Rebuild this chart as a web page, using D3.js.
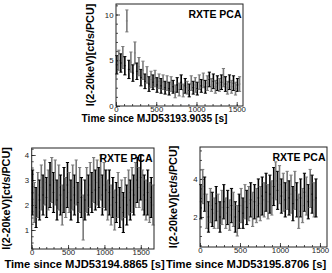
<!DOCTYPE html>
<html>
<head>
<meta charset="utf-8">
<script src="https://cdn.jsdelivr.net/npm/d3@7"></script>
<style>
  body { margin: 0; background: #fff; }
  text { font-family: "Liberation Sans", Arial, sans-serif; }
</style>
</head>
<body>
<svg id="chart" width="332" height="273"></svg>
<script>
// light curves, count rate per bin
let topStart = 10, topStep = 25;
let topRate = [4.5,5.0,4.7,5.3,4.4,9.3,4.0,4.8,3.6,5.8,3.8,4.3,3.1,3.9,2.7,3.4,2.4,2.9,2.6,3.0,
  2.3,2.7,2.2,2.6,2.0,2.5,1.9,2.4,2.1,1.6,2.3,1.8,2.6,1.7,2.2,2.0,1.7,2.5,2.0,2.3,
  1.9,2.6,2.2,2.8,2.1,2.5,2.9,2.3,2.7,2.1,2.5,2.3,2.6,3.1,2.4,2.0,2.6,2.1,2.5,1.9,2.3,2.4];
let topErr = [1.0,1.1,1.0,1.2,1.0,1.2,1.0,1.1,0.9,1.2,0.9,1.0,0.9,1.0,0.8,0.9,0.8,0.9,0.8,0.9,
  0.8,0.8,0.8,0.8,0.7,0.8,0.7,0.8,0.7,0.7,0.8,0.7,0.8,0.7,0.8,0.7,0.7,0.8,0.7,0.8,
  0.7,0.8,0.7,0.8,0.7,0.8,0.8,0.7,0.8,0.7,0.8,0.7,0.8,1.0,0.8,0.7,0.8,0.7,0.8,0.7,0.7,0.8];

let blStart = 12, blStep = 24;
let blRate = [2.5,2.1,1.9,2.4,2.2,2.7,2.4,2.9,2.3,2.6,2.8,3.0,2.5,2.9,2.2,2.7,2.4,2.0,2.6,2.3,
  2.8,2.5,2.2,2.7,2.4,2.9,2.1,2.6,2.3,1.5,2.2,2.6,2.4,2.8,2.5,3.0,2.6,2.9,2.7,3.1,
  2.4,2.8,2.6,2.2,2.5,2.0,2.3,1.8,2.1,2.4,1.9,2.2,1.7,2.3,2.0,2.5,2.2,2.6,2.4,2.8,
  3.0,2.7,3.1,2.6,2.4,2.2,2.5,2.1,2.3,2.0];
let blErr = [0.9,0.8,0.8,0.9,0.8,0.9,0.8,0.9,0.8,0.8,0.9,0.9,0.8,0.9,0.8,0.9,0.8,0.8,0.9,0.8,
  0.9,0.8,0.8,0.9,0.8,0.9,0.8,0.9,0.8,0.9,0.8,0.9,0.8,0.9,0.8,0.9,0.8,0.9,0.8,0.9,
  0.8,0.9,0.8,0.8,0.9,0.8,0.8,0.8,0.8,0.9,0.8,0.8,0.8,0.8,0.8,0.9,0.8,0.9,0.8,0.9,
  0.9,0.8,0.9,0.8,0.8,0.8,0.9,0.8,0.8,0.8];

let brStart = 10, brStep = 24;
let brRate = [2.8,3.6,3.2,2.3,2.0,2.6,2.4,2.2,2.7,2.3,2.0,2.5,2.8,2.2,2.5,2.1,2.6,2.4,2.0,1.8,
  2.3,2.6,2.2,2.8,2.5,2.7,2.9,2.4,2.8,2.6,3.0,2.7,3.1,2.9,3.3,2.8,3.2,3.0,3.6,3.9,
  3.4,3.7,3.1,3.3,2.9,3.4,3.0,3.2,2.7,3.4,2.9,2.3,3.0,2.6,3.3,3.1,2.8,3.5,3.2,2.9,3.0];
let brErr = [0.9,0.9,0.9,0.9,0.8,0.9,0.9,0.8,0.9,0.9,0.8,0.9,0.9,0.8,0.9,0.8,0.9,0.9,0.8,0.8,
  0.9,0.9,0.8,0.9,0.9,0.9,0.9,0.9,0.9,0.9,1.0,0.9,1.0,0.9,1.0,0.9,1.0,0.9,1.0,1.0,
  1.0,1.0,0.9,1.0,0.9,1.0,0.9,1.0,0.9,1.0,0.9,0.9,1.0,0.9,1.0,1.0,0.9,1.0,1.0,0.9,1.0];

let xTickVals = [0, 500, 1000, 1500];

let panels = [
  { rate: topRate, err: topErr, t0: topStart, dt: topStep,
    x0: 116, x1: 243, y0: 4, y1: 106, xDom: [0, 1578], yDom: [0, 11.15],
    yMajor: [0, 5, 10], yMinor: 1, xMinor: 100,
    title: "Time since MJD53193.9035 [s]", titleX: 154.5, titleY: 122, titleSize: 10.2,
    yTitleX: 90 },
  { rate: blRate, err: blErr, t0: blStart, dt: blStep,
    x0: 31.7, x1: 154, y0: 148, y1: 249, xDom: [0, 1682], yDom: [0.24, 4.28],
    yMajor: [1, 2, 3, 4], yMinor: 0.25, xMinor: 100,
    title: "Time since MJD53194.8865 [s]", titleX: 84.5, titleY: 268, titleSize: 11.2,
    yTitleX: 5.5 },
  { rate: brRate, err: brErr, t0: brStart, dt: brStep,
    x0: 200, x1: 327, y0: 147, y1: 247, xDom: [0, 1588], yDom: [0.42, 5.68],
    yMajor: [2, 4], yMinor: 0.5, xMinor: 100,
    title: "Time since MJD53195.8706 [s]", titleX: 246, titleY: 268, titleSize: 11.2,
    yTitleX: 173 }
];

let svg = d3.select("#chart");

panels.forEach(function(p) {
  let x = d3.scaleLinear().domain(p.xDom).range([p.x0, p.x1]);
  let y = d3.scaleLinear().domain(p.yDom).range([p.y1, p.y0]);
  let g = svg.append("g");

  // minor ticks
  let xMinorVals = d3.range(0, p.xDom[1], p.xMinor);
  let yMinorVals = d3.range(Math.ceil(p.yDom[0] / p.yMinor) * p.yMinor, p.yDom[1], p.yMinor);
  g.append("g").attr("transform", "translate(0," + p.y1 + ")")
    .call(d3.axisBottom(x).tickValues(xMinorVals).tickSize(-2).tickFormat(""));
  g.append("g").attr("transform", "translate(" + p.x0 + ",0)")
    .call(d3.axisLeft(y).tickValues(yMinorVals).tickSize(-2).tickFormat(""));

  // major ticks + labels
  g.append("g").attr("class", "xaxis").attr("transform", "translate(0," + p.y1 + ")")
    .call(d3.axisBottom(x).tickValues(xTickVals).tickSize(-4).tickPadding(0.5)
      .tickFormat(d3.format("d")));
  g.append("g").attr("class", "yaxis").attr("transform", "translate(" + p.x0 + ",0)")
    .call(d3.axisLeft(y).tickValues(p.yMajor).tickSize(-4).tickPadding(2.5)
      .tickFormat(d3.format("d")));

  g.selectAll(".domain").remove();
  g.selectAll(".tick line").attr("stroke", "#222").attr("stroke-width", 0.8);
  g.selectAll(".tick text").attr("font-size", 7.8).attr("fill", "#222")
    .attr("font-family", "'Liberation Sans', Arial, sans-serif");

  // data: error bars alternating black / grey
  let pts = p.rate.map(function(v, i) {
    return { t: p.t0 + i * p.dt, v: v, e: p.err[i], c: i % 2 ? "#7a7a7a" : "#000" };
  });
  let bars = g.append("g").selectAll("g").data(pts).join("g")
    .attr("stroke", function(d) { return d.c; });
  bars.append("line")
    .attr("stroke-width", 1.6)
    .attr("x1", function(d) { return x(d.t); })
    .attr("x2", function(d) { return x(d.t); })
    .attr("y1", function(d) { return y(d.v - d.e); })
    .attr("y2", function(d) { return y(d.v + d.e); });
  bars.append("line")
    .attr("stroke-width", 0.8)
    .attr("x1", function(d) { return x(d.t - p.dt / 2); })
    .attr("x2", function(d) { return x(d.t + p.dt / 2); })
    .attr("y1", function(d) { return y(d.v); })
    .attr("y2", function(d) { return y(d.v); });
  [-1, 1].forEach(function(s) {
    bars.append("line")
      .attr("stroke-width", 1)
      .attr("x1", function(d) { return x(d.t) - 1.6; })
      .attr("x2", function(d) { return x(d.t) + 1.6; })
      .attr("y1", function(d) { return y(d.v + s * d.e); })
      .attr("y2", function(d) { return y(d.v + s * d.e); });
  });

  // frame
  g.append("rect")
    .attr("x", p.x0).attr("y", p.y0)
    .attr("width", p.x1 - p.x0).attr("height", p.y1 - p.y0)
    .attr("fill", "none").attr("stroke", "#222").attr("stroke-width", 1);

  g.append("text")
    .attr("x", p.x1 - 1.5).attr("y", p.y0 + 14)
    .attr("text-anchor", "end").attr("font-weight", "bold").attr("font-size", 10.5)
    .text("RXTE PCA");

  g.append("text")
    .attr("x", p.titleX).attr("y", p.titleY)
    .attr("text-anchor", "middle").attr("font-weight", "bold").attr("font-size", p.titleSize)
    .text(p.title);

  g.append("text")
    .attr("transform", "translate(" + p.yTitleX + "," + (p.y0 + p.y1) / 2 + ") rotate(-90)")
    .attr("text-anchor", "middle").attr("dominant-baseline", "central")
    .attr("font-weight", "bold").attr("font-size", 10.8)
    .text("I(2-20keV)[ct/s/PCU]");
});
</script>
</body>
</html>
